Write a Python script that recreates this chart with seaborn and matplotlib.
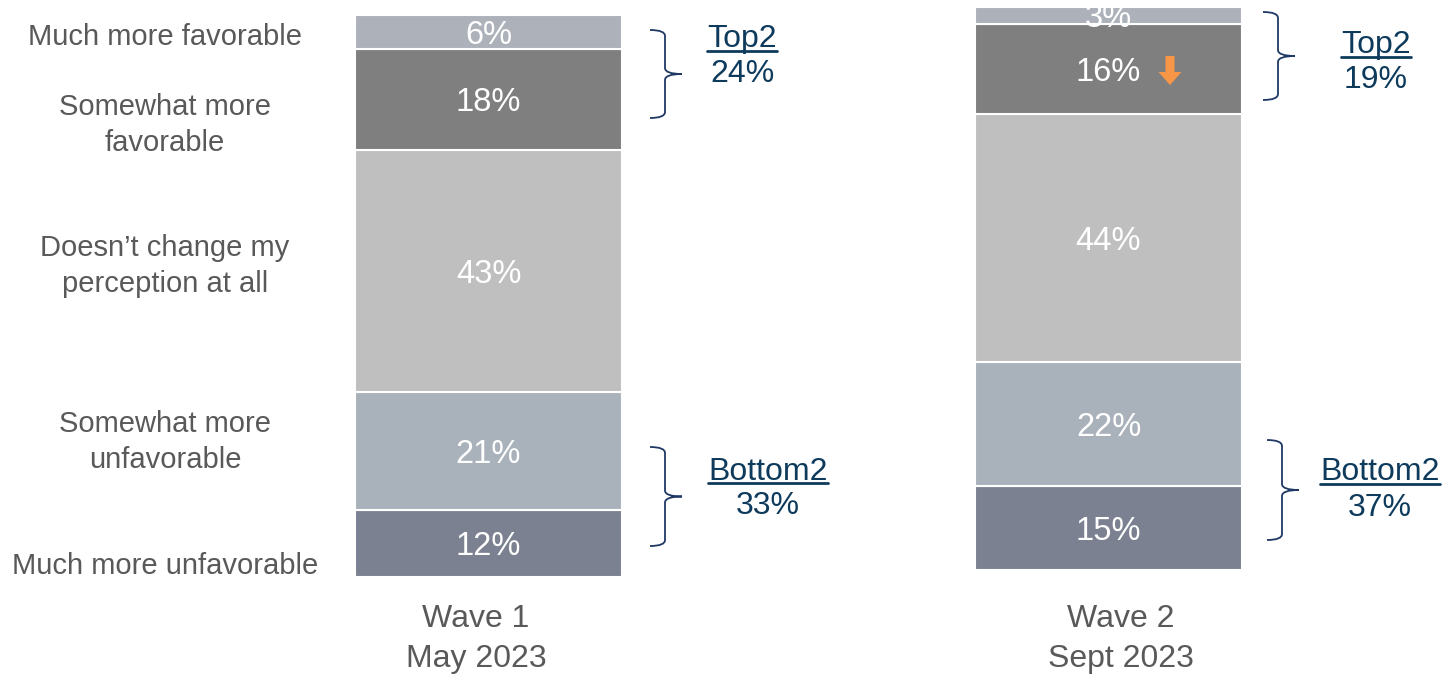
import matplotlib
matplotlib.use("Agg")
import matplotlib.pyplot as plt
from matplotlib.path import Path
from matplotlib.patches import PathPatch, FancyArrow
import seaborn as sns

# data (bottom of the stack first)
categories = ["Much more unfavorable", "Somewhat more\nunfavorable",
              "Doesn\u2019t change my\nperception at all",
              "Somewhat more\nfavorable", "Much more favorable"]
waves = ["Wave 1\nMay 2023", "Wave 2\nSept 2023"]
wave1 = [12, 21, 43, 18, 6]
wave2 = [15, 22, 44, 16, 3]
top2 = [24, 19]
bottom2 = [33, 37]

seg_colors = ["#7b8191", "#a9b1ba", "#bfbfbf", "#7f7f7f", "#adb1ba"]
navy = "#0e3a5c"
gray_txt = "#595959"

sns.set_style("white")
plt.rcParams["font.family"] = ["Liberation Sans", "DejaVu Sans"]

W, H = 1456, 674
fig = plt.figure(figsize=(W / 100, H / 100), dpi=100)


def px_axes(x0, y0, x1, y1):
    # axes placed with pixel box (top-left origin)
    return fig.add_axes([x0 / W, 1 - y1 / H, (x1 - x0) / W, (y1 - y0) / H])


boxes = [(355, 15, 622, 577), (975, 7, 1242, 570)]
for box, vals, wave in zip(boxes, [wave1, wave2], waves):
    ax = px_axes(*box)
    cum = 0
    for v, c in zip(vals, seg_colors):
        sns.barplot(x=[wave], y=[v], bottom=cum, color=c, width=1, ax=ax,
                    edgecolor="white", linewidth=1.5, saturation=1)
        ax.text(0, cum + v / 2, f"{v}%", ha="center", va="center_baseline",
                color="white", fontsize=23.5, clip_on=False)
        cum += v
    ax.set_xlim(-0.5, 0.5)
    ax.set_ylim(0, 100)
    ax.axis("off")

# overlay in pixel coordinates for labels and brackets
ov = fig.add_axes([0, 0, 1, 1], facecolor="none")
ov.set_xlim(0, W)
ov.set_ylim(H, 0)
ov.axis("off")

cat_y = [566, 442, 266, 125, 37]
for lab, y in zip(categories, cat_y):
    ov.text(165, y, lab, ha="center", va="center", color=gray_txt,
            fontsize=21, linespacing=1.35)

for x, wave in zip([476, 1121], waves):
    ov.text(x, 639, wave, ha="center", va="center", color=gray_txt,
            fontsize=23, linespacing=1.45, multialignment="center")


def brace(x0, y0, y1, depth=15, tip=17):
    ym = (y0 + y1) / 2
    xv = x0 + depth
    r = 6
    verts = [(x0, y0), (xv, y0), (xv, y0 + r),
             (xv, ym - r), (xv, ym), (xv + tip, ym),
             (xv, ym), (xv, ym + r),
             (xv, y1 - r), (xv, y1), (x0, y1)]
    codes = [Path.MOVETO, Path.CURVE3, Path.CURVE3,
             Path.LINETO, Path.CURVE3, Path.CURVE3,
             Path.CURVE3, Path.CURVE3,
             Path.LINETO, Path.CURVE3, Path.CURVE3]
    ov.add_patch(PathPatch(Path(verts, codes), fill=False, edgecolor="#1f3864", lw=1.3))


def group_label(x, y, name, val):
    t = ov.text(x, y, name, ha="center", va="center_baseline", color=navy, fontsize=23)
    fig.canvas.draw()
    bb = t.get_window_extent().transformed(ov.transData.inverted())
    ov.plot([bb.x0, bb.x1], [y + 15, y + 15], color=navy, lw=2)
    ov.text(x, y + 35, f"{val}%", ha="center", va="center_baseline", color=navy, fontsize=23)


brace(650, 30, 118)
brace(650, 447, 546)
brace(1263, 12, 100)
brace(1267, 440, 540)

group_label(742, 36, "Top2", top2[0])
group_label(768, 468, "Bottom2", bottom2[0])
group_label(1376, 42, "Top2", top2[1])
group_label(1380, 469, "Bottom2", bottom2[1])

ov.add_patch(FancyArrow(1170, 56, 0, 16, width=9, head_width=23, head_length=13,
                        length_includes_head=False, color="#f79646", lw=0))

fig.savefig("out.png", dpi=100)
